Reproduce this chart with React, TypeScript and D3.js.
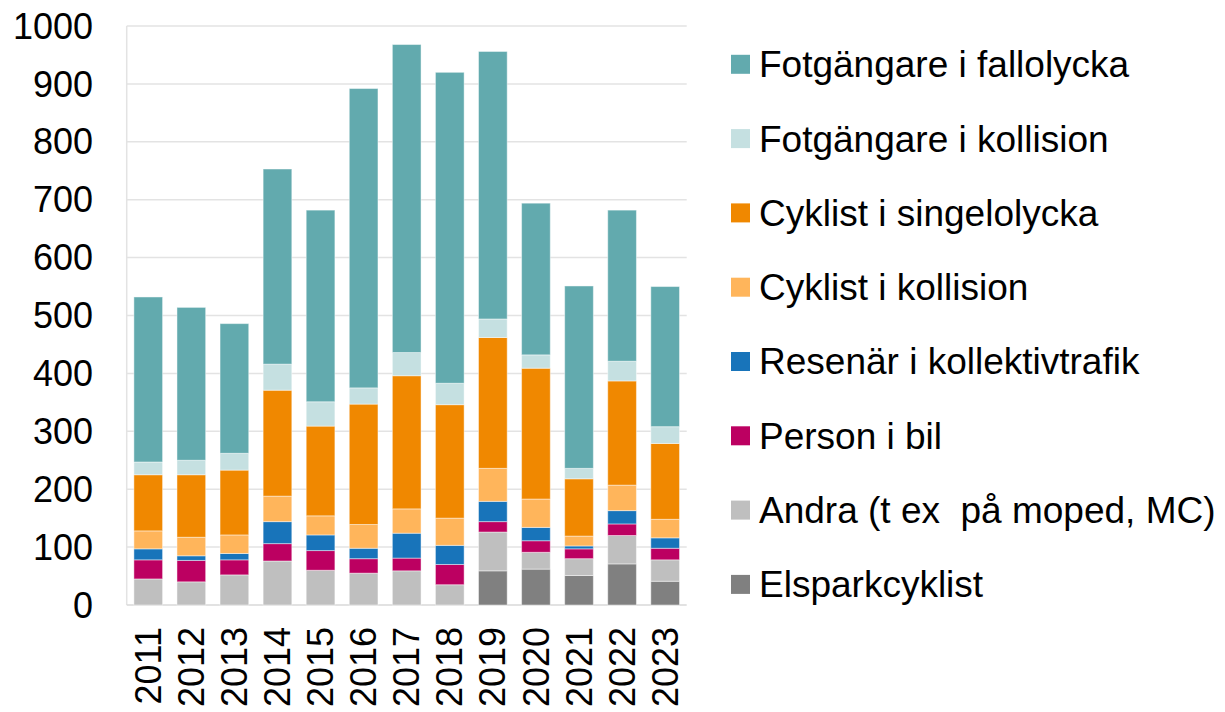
import React, { useRef, useEffect } from 'react';
import * as d3 from 'd3';

// years on the x axis
const years = ['2011', '2012', '2013', '2014', '2015', '2016', '2017', '2018', '2019', '2020', '2021', '2022', '2023'];

// series values, bottom of the stack first
const elspark = [0, 0, 0, 0, 0, 0, 0, 0, 59, 62, 51, 71, 41];
const andra = [45, 40, 52, 76, 60, 55, 59, 35, 67, 29, 29, 49, 37];
const personBil = [33, 37, 26, 30, 34, 25, 22, 35, 18, 20, 17, 20, 20];
const resenar = [19, 8, 11, 38, 27, 18, 43, 33, 35, 23, 5, 23, 18];
const cyklistKoll = [31, 32, 32, 44, 33, 41, 42, 47, 57, 49, 17, 44, 32];
const cyklistSingel = [97, 108, 112, 183, 155, 208, 230, 196, 226, 226, 99, 180, 131];
const fotKoll = [22, 25, 29, 45, 42, 28, 40, 37, 32, 23, 18, 34, 29];
const fotFall = [285, 264, 224, 337, 331, 517, 532, 537, 462, 262, 315, 261, 242];

const seriesNames = [
  'Elsparkcyklist',
  'Andra (t ex  på moped, MC)',
  'Person i bil',
  'Resenär i kollektivtrafik',
  'Cyklist i kollision',
  'Cyklist i singelolycka',
  'Fotgängare i kollision',
  'Fotgängare i fallolycka',
];
const seriesValues = [elspark, andra, personBil, resenar, cyklistKoll, cyklistSingel, fotKoll, fotFall];
const colors = ['#808080', '#BFBFBF', '#BC0061', '#1874BA', '#FFB55B', '#F08800', '#C5E0E1', '#62AAAE'];

const yTicks = [0, 100, 200, 300, 400, 500, 600, 700, 800, 900, 1000];

const App = () => {
  const svgRef = useRef<SVGSVGElement>(null);

  useEffect(() => {
    if (!svgRef.current) return;
    const svg = d3.select(svgRef.current);
    svg.selectAll('*').remove();

    const font = 'Liberation Sans, Arial, sans-serif';
    const left = 126.7;
    const right = 686.7;
    const top = 26;
    const bottom = 605;

    const x = d3.scaleBand()
      .domain(years)
      .range([left, right])
      .paddingInner(0.334)
      .paddingOuter(0.167);

    const y = d3.scaleLinear().domain([0, 1000]).range([bottom, top]);

    const table = years.map((yr, i) => {
      const row: Record<string, any> = { year: yr };
      seriesNames.forEach((n, k) => { row[n] = seriesValues[k][i]; });
      return row;
    });
    const stacked = d3.stack<any>().keys(seriesNames)(table);

    // gridlines
    svg.append('g')
      .selectAll('line')
      .data(yTicks.slice(1))
      .enter()
      .append('line')
      .attr('x1', left)
      .attr('x2', right)
      .attr('y1', d => y(d))
      .attr('y2', d => y(d))
      .attr('stroke', '#E3E3E3')
      .attr('stroke-width', 1.5);

    // axis lines
    svg.append('line')
      .attr('x1', left).attr('x2', left)
      .attr('y1', top).attr('y2', bottom)
      .attr('stroke', '#E3E3E3').attr('stroke-width', 1.5);
    svg.append('line')
      .attr('x1', left).attr('x2', right)
      .attr('y1', bottom).attr('y2', bottom)
      .attr('stroke', '#D9D9D9').attr('stroke-width', 1.5);

    // y labels
    svg.append('g')
      .selectAll('text')
      .data(yTicks)
      .enter()
      .append('text')
      .attr('x', 93)
      .attr('y', d => y(d))
      .attr('dy', '0.35em')
      .attr('text-anchor', 'end')
      .attr('font-family', font)
      .attr('font-size', 36)
      .attr('fill', '#000')
      .text(d => String(d));

    // bars
    stacked.forEach((layer, k) => {
      svg.append('g')
        .selectAll('rect')
        .data(layer)
        .enter()
        .append('rect')
        .attr('x', d => x(d.data.year)!)
        .attr('width', x.bandwidth())
        .attr('y', d => y(d[1]))
        .attr('height', d => Math.max(0, y(d[0]) - y(d[1])))
        .attr('fill', colors[k])
        .attr('stroke', d => (d[1] - d[0] > 0 ? 'rgba(255,255,255,0.45)' : 'none'))
        .attr('stroke-width', 1);
    });

    // x labels
    svg.append('g')
      .selectAll('text')
      .data(years)
      .enter()
      .append('text')
      .attr('transform', d => `translate(${x(d)! + x.bandwidth() / 2},627) rotate(-90)`)
      .attr('dy', '0.35em')
      .attr('text-anchor', 'end')
      .attr('font-family', font)
      .attr('font-size', 36)
      .attr('fill', '#000')
      .text(d => d);

    // legend, top series first
    const legendOrder = seriesNames.map((n, k) => k).reverse();
    const leg = svg.append('g')
      .selectAll('g')
      .data(legendOrder)
      .enter()
      .append('g')
      .attr('transform', (d, i) => `translate(731,${64.3 + i * 74.3})`);
    leg.append('rect')
      .attr('x', 0)
      .attr('y', -9.5)
      .attr('width', 19)
      .attr('height', 19)
      .attr('fill', d => colors[d]);
    leg.append('text')
      .attr('x', 28)
      .attr('y', 0)
      .attr('dy', '0.35em')
      .attr('font-family', font)
      .attr('font-size', 37)
      .attr('fill', '#000')
      .style('white-space', 'pre')
      .text(d => seriesNames[d]);
  }, []);

  return (
    <div style={{ position: 'absolute', left: 0, top: 0 }}>
      <svg ref={svgRef} width={1225} height={712} style={{ display: 'block', background: '#fff' }}></svg>
    </div>
  );
};

export default App;
